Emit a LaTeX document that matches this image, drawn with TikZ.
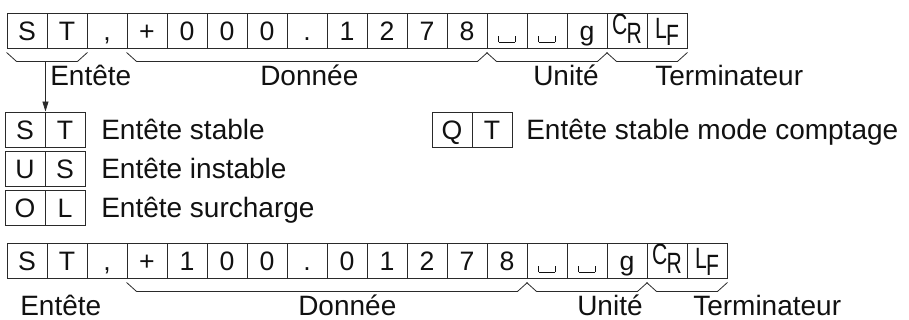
\documentclass[tikz,border=0pt]{standalone}
\usepackage{fontspec}
\setmainfont{Liberation Sans}
\usetikzlibrary{arrows.meta}
\definecolor{frameink}{HTML}{2A2A2A}
\definecolor{textink}{HTML}{111111}
% visible space and two-letter control characters
\newcommand{\vsp}{\raisebox{-1.8pt}{\rule{0.6pt}{4.5pt}\rule{12.3pt}{0.6pt}\rule{0.6pt}{4.5pt}}}
\newcommand{\ctlchar}[4]{\scalebox{0.72}[1]{\fontsize{22}{22}\selectfont
  \raisebox{#2}{#1}\kern-0.8pt\raisebox{#4}{#3}}}
\newcommand{\crc}{\ctlchar{C}{4.2pt}{R}{-2.6pt}}
\newcommand{\lfc}{\ctlchar{L}{1.2pt}{F}{-4pt}}

\begin{document}
\begin{tikzpicture}[
  x=0.75pt,
  y=-0.75pt,
  every node/.style={textink},
  cell/.style={draw=frameink, line width=0.7pt, minimum width=30pt,
    minimum height=26.25pt, inner sep=0pt, font=\fontsize{20}{20}\selectfont,
    text height=14.3pt, text depth=0pt},
  tag/.style={anchor=base west, inner sep=0pt, font=\fontsize{21}{21}\selectfont},
  under/.style={frameink, line width=0.6pt,
    to path={([yshift=-3pt]\tikztostart) -- ++(10,9)
      -- ([xshift=-7.5pt,yshift=-9.75pt]\tikztotarget)
      -- ([yshift=-3pt]\tikztotarget)}},
  pointer/.style={frameink, line width=0.6pt, -{Triangle[length=7.5pt,width=4.5pt]}}
]
  % ---- bounding box, the size of the reference ----
  \path (0,0) rectangle (909,320);

  % ---- first frame ----
  \foreach \c [count=\i from 0] in {S,T,{,},+,0,0,0,.,1,2,7,8,\vsp,\vsp,g,\crc,\lfc}
    \node[cell] (t\i) at (27+40*\i,30.5) {\c};

  \draw[under] (t0.south west) to (t1.south east);
  \draw[under] (t3.south west) to (t11.south east);
  \draw[under] (t12.south west) to (t14.south east);
  \draw[under] (t15.south west) to (t16.south east);
  \coordinate (hdr) at ([yshift=-9.75pt]t0.south east);

  \node[tag] (thead) at (50,86) {Entête};
  \node[tag] (tdata) at (260,86) {Donnée};
  \node[tag] (tunit) at (533,86) {Unité};
  \node[tag] (tterm) at (655,86) {Terminateur};

  % ---- header codes ----
  \foreach \nm/\a/\b/\y in {s/S/T/129.5, u/U/S/168.5, o/O/L/207.5} {
    \node[cell] (\nm0) at (25,\y) {\a};
    \node[cell] (\nm1) at (65,\y) {\b};
  }
  \node[cell] (q0) at (452,129.5) {Q};
  \node[cell] (q1) at (492,129.5) {T};

  \node[tag] (lst) at (101,139.5) {Entête stable};
  \node[tag] (lus) at (101,178.5) {Entête instable};
  \node[tag] (lol) at (101,217.5) {Entête surcharge};
  \node[tag] (lqt) at (526,139.5) {Entête stable mode comptage};

  \draw[pointer] (hdr -| s0.north east) -- (s0.north east);

  % ---- second frame ----
  \foreach \c [count=\i from 0] in {S,T,{,},+,1,0,0,.,0,1,2,7,8,\vsp,\vsp,g,\crc,\lfc}
    \node[cell] (b\i) at (27+40*\i,260.5) {\c};

  \draw[under] (b3.south west) to (b12.south east);
  \draw[under] (b13.south west) to (b15.south east);
  \draw[under] (b16.south west) to (b17.south east);

  \node[tag] (bhead) at (20,315.5) {Entête};
  \node[tag] (bdata) at (298,315.5) {Donnée};
  \node[tag] (bunit) at (577,315.5) {Unité};
  \node[tag] (bterm) at (693,315.5) {Terminateur};
\end{tikzpicture}
\end{document}
